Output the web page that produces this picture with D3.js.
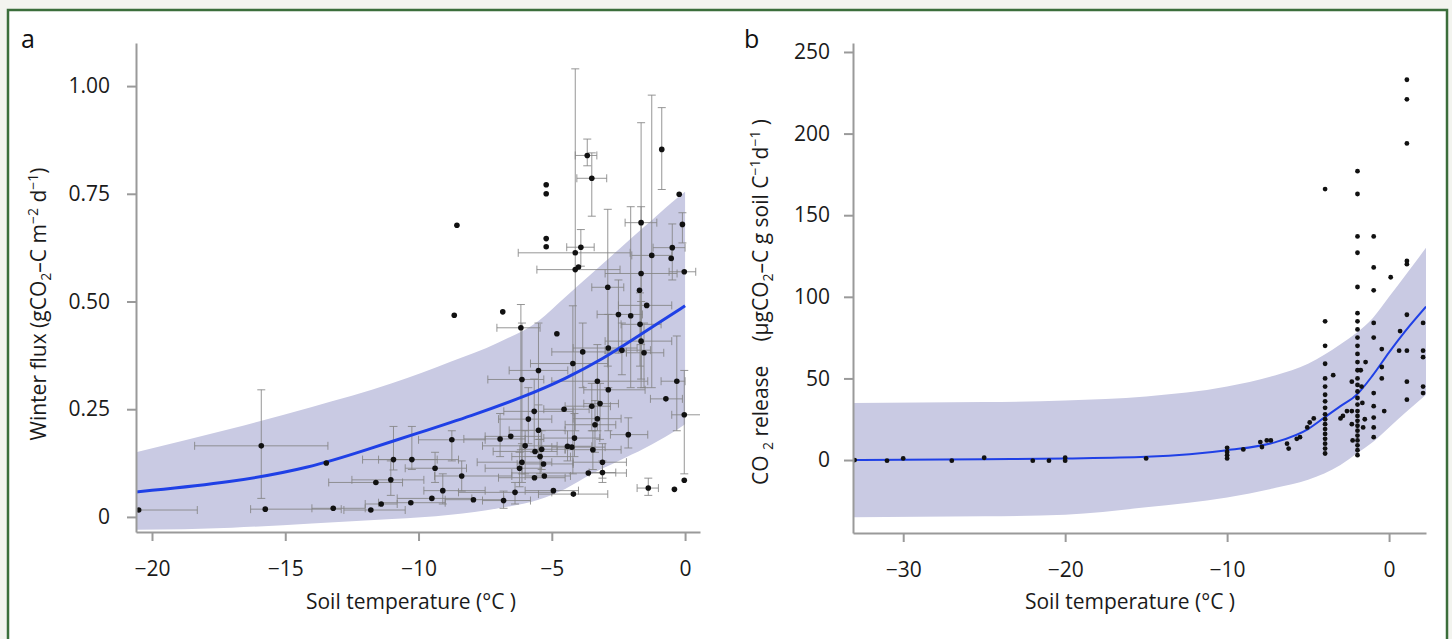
<!DOCTYPE html>
<html>
<head>
<meta charset="utf-8">
<script src="https://cdn.jsdelivr.net/npm/d3@7"></script>
<style>
body { margin: 0; background: #f3f4ef; }
svg { display: block; font-family: "Open Sans", sans-serif; }
</style>
</head>
<body>
<svg id="chart" width="1452" height="639"></svg>
<script>
// ---- panel a: winter flux vs soil temperature ----
var aBandT  = [-20.6, -17, -14, -11, -8.8, -7, -5.5, -4.5, -3.5, -2.5, -1.5, -0.5, 0];
var aBandLo = [-0.03, -0.025, -0.015, -0.005, 0.005, 0.02, 0.04, 0.065, 0.1, 0.13, 0.16, 0.195, 0.215];
var aBandHi = [0.15, 0.205, 0.255, 0.31, 0.36, 0.405, 0.455, 0.51, 0.565, 0.62, 0.675, 0.73, 0.755];
var aLineT  = [-20.6, -17, -14, -12, -10, -8, -6, -4.5, -3, -2, -1, 0];
var aLineV  = [0.058, 0.08, 0.115, 0.155, 0.195, 0.235, 0.28, 0.32, 0.37, 0.41, 0.45, 0.49];
// [temp, flux, tempLo, tempHi, fluxLo, fluxHi]
var aPoints = [
  [-20.5,0.016,-21.5,-18.3,null,null],
  [-15.9,0.165,-18.4,-13.4,0.043,0.295],
  [-15.75,0.018,-16.3,-12.9,null,null],
  [-13.46,0.125,null,null,null,null],
  [-13.2,0.02,-14.0,-12.0,null,null],
  [-11.79,0.016,-12.8,-10.5,null,null],
  [-11.4,0.03,-12.0,-10.8,null,null],
  [-11.6,0.08,-13.37,-10.6,null,null],
  [-11.04,0.086,-12.5,-9.8,0.05,0.13],
  [-10.94,0.133,-12.1,-8.5,0.109,0.21],
  [-10.25,0.133,-11.5,-9.3,0.11,0.21],
  [-10.29,0.033,-11.5,-9.0,null,null],
  [-9.38,0.113,-10.5,-8.2,0.08,0.15],
  [-9.5,0.043,-10.8,-8.0,null,null],
  [-9.09,0.061,-9.8,-7.5,0.03,0.1],
  [-8.75,0.179,-10.0,-7.5,0.13,0.2],
  [-8.38,0.095,-9.4,-6.5,0.06,0.13],
  [-7.94,0.04,-9.0,-6.8,null,null],
  [-6.81,0.038,-7.6,-5.8,0.02,0.06],
  [-8.56,0.677,null,null,null,null],
  [-8.66,0.468,null,null,null,null],
  [-6.84,0.476,null,null,null,null],
  [-6.16,0.439,-7.06,-5.44,0.156,0.493],
  [-4.81,0.425,null,null,null,null],
  [-5.21,0.771,null,null,null,null],
  [-5.21,0.75,null,null,null,null],
  [-5.21,0.646,null,null,null,null],
  [-5.21,0.627,null,null,null,null],
  [-3.67,0.839,-4.12,-3.31,0.815,0.877],
  [-3.5,0.786,-4.06,-2.94,0.698,0.845],
  [-4.12,0.613,-6.26,-2.06,0.2,1.04],
  [-3.91,0.626,-4.44,-3.41,0.582,0.667],
  [-4.12,0.574,-5.56,-2.44,null,null],
  [-4.0,0.58,null,null,null,null],
  [-0.875,0.853,null,null,0.76,0.95],
  [-1.25,0.607,-2.0,-0.5,0.3,0.979],
  [-1.65,0.683,-2.25,-1.06,0.3,0.915],
  [-0.22,0.749,null,null,null,null],
  [-0.1,0.679,null,null,0.636,0.706],
  [-0.48,0.625,-1.2,0.0,0.55,0.68],
  [-0.52,0.6,null,null,null,null],
  [-0.03,0.569,-0.6,0.4,null,null],
  [-1.65,0.565,-3.0,-0.3,0.4,0.72],
  [-2.9,0.533,-3.5,-2.3,0.35,0.714],
  [-1.71,0.526,null,null,null,null],
  [-1.44,0.491,-2.5,-0.5,null,null],
  [-2.5,0.47,-3.3,-1.6,0.38,0.55],
  [-2.04,0.467,null,null,0.3,0.72],
  [-1.69,0.447,-2.4,-0.9,0.35,0.52],
  [-1.65,0.408,-3.0,-0.5,0.32,0.5],
  [-1.54,0.381,-2.2,-0.8,0.3,0.45],
  [-2.88,0.392,-4.2,-1.8,0.3,0.47],
  [-2.37,0.387,-3.0,-1.3,0.33,0.45],
  [-3.84,0.383,-5.0,-2.2,0.3,0.45],
  [-4.21,0.356,-5.8,-2.9,0.1,0.49],
  [-5.5,0.34,-6.6,-4.4,0.18,0.45],
  [-6.12,0.319,-7.4,-5.3,0.1,0.45],
  [-3.29,0.315,-5.0,-1.4,0.2,0.4],
  [-2.88,0.295,-3.8,-1.5,0.2,0.38],
  [-0.31,0.315,-0.9,0.0,0.2,0.42],
  [-0.72,0.274,-1.3,-0.1,null,null],
  [-0.03,0.237,-0.5,0.6,0.1,0.34],
  [-5.66,0.245,-6.8,-4.2,0.15,0.32],
  [-4.54,0.25,-5.3,-3.6,null,null],
  [-3.5,0.257,-4.5,-2.8,0.2,0.31],
  [-3.19,0.263,-3.8,-2.5,0.18,0.31],
  [-5.88,0.227,-7.0,-5.0,0.17,0.3],
  [-3.29,0.228,-4.2,-2.4,null,null],
  [-3.38,0.214,-4.5,-2.6,0.15,0.27],
  [-2.13,0.191,-2.8,-1.4,0.16,0.23],
  [-6.94,0.181,-8.3,-6.0,0.14,0.24],
  [-6.54,0.187,-7.5,-5.4,null,null],
  [-5.5,0.201,-6.6,-4.5,0.14,0.26],
  [-4.15,0.183,-5.3,-3.2,0.14,0.24],
  [-6.0,0.165,-7.6,-4.8,0.1,0.2],
  [-5.38,0.157,-6.2,-4.5,0.11,0.2],
  [-5.63,0.152,-7.2,-4.8,null,null],
  [-4.41,0.164,-5.5,-3.5,0.13,0.2],
  [-4.25,0.162,-5.0,-3.0,null,null],
  [-3.46,0.156,-4.5,-2.4,0.11,0.2],
  [-5.44,0.14,-6.5,-4.3,0.1,0.18],
  [-6.12,0.127,-7.8,-5.0,0.08,0.17],
  [-5.31,0.123,-6.3,-4.2,null,null],
  [-6.21,0.113,-7.5,-5.4,0.07,0.15],
  [-3.1,0.127,-4.2,-2.2,0.09,0.17],
  [-3.1,0.103,-3.6,-2.6,0.08,0.13],
  [-3.63,0.102,-6.5,-2.2,null,null],
  [-5.65,0.091,-7.0,-4.5,null,null],
  [-5.28,0.095,-6.0,-4.3,null,null],
  [-6.38,0.057,-8.5,-5.0,0.03,0.08],
  [-4.94,0.061,-6.0,-4.0,null,null],
  [-4.19,0.053,-5.5,-2.9,null,null],
  [-1.38,0.067,-1.8,-1.0,0.05,0.09],
  [-0.4,0.064,null,null,null,null],
  [-0.03,0.085,null,null,null,null]
];
var aXTicks = [-20, -15, -10, -5, 0];
var aYTicks = [0, 0.25, 0.5, 0.75, 1];
var aYTickLabels = ["0", "0.25", "0.50", "0.75", "1.00"];

// ---- panel b: CO2 release vs soil temperature ----
var bBandT  = [-33.1, -25, -20, -15, -10, -7, -5, -3, -2, -1, 0, 1, 2.28];
var bBandLo = [-35, -34.5, -33.5, -29, -23, -17, -12, -3, 4, 11, 20, 29, 40];
var bBandHi = [35, 35.5, 36.5, 39, 45, 52, 59, 71, 78, 87, 100, 113, 130];
var bLineT  = [-33.1, -25, -20, -15, -10, -7, -5, -4, -3, -2, -1, 0, 1, 2.28];
var bLineV  = [0, 0.5, 1, 2, 6, 11, 19, 26, 33, 40, 52, 66, 79, 94];
var bPoints = [
  [-33,0],[-31,-0.4],[-30,1],[-27,-0.4],[-25,1.4],[-22,-0.4],[-21,-0.4],[-20,1.4],[-20,-0.4],[-15,1],
  [-10,1],[-10,3],[-10,5],[-10,7.5],[-9,6.5],[-7.95,11],[-7.85,8],[-7.55,12],[-7.3,12],[-6.3,10],
  [-6.2,7],[-5.7,13],[-5.5,14],[-5.05,20],[-4.9,23],[-4.65,25.5],
  [-3.95,166],[-3.95,85],[-3.95,70],[-3.95,59],[-3.95,50],[-3.95,45],[-3.95,40],[-3.95,36],[-3.95,32],
  [-3.95,28],[-3.95,25],[-3.95,22],[-3.95,19],[-3.95,16],[-3.95,13],[-3.95,10],[-3.95,7],[-3.95,4],
  [-3.45,52],[-3.0,25.5],[-2.85,27],[-2.6,30],
  [-1.95,177],[-1.95,163],[-1.95,137],[-1.95,127],[-1.95,106],[-1.95,90],[-1.95,85],[-1.95,80],
  [-1.95,75],[-1.95,70],[-1.95,65],[-1.95,60],[-1.95,55],[-1.95,50],[-1.95,46],[-1.95,42],[-1.95,38],
  [-1.95,34],[-1.95,30],[-1.95,27],[-1.95,24],[-1.95,21],[-1.95,18],[-1.95,15],[-1.95,12],[-1.95,9],
  [-1.95,6],[-1.95,3],
  [-2.3,48],[-2.3,30],[-2.3,22],[-2.25,12],[-1.75,55],[-1.7,45],[-1.65,35],[-1.6,20],[-1.5,25],[-1.45,60],
  [-0.95,137],[-0.95,118],[-0.95,104],[-0.95,84],[-0.95,75],[-0.95,41],[-0.95,33],[-0.95,26],
  [-0.95,20],[-0.95,14],
  [-0.45,68],[-0.45,57],[-0.45,50],[-0.3,30],
  [0.1,112],[0.68,79],[0.62,67],
  [1.1,233],[1.1,221],[1.1,194],[1.1,122],[1.1,120],[1.1,89],[1.1,67],[1.1,48],[1.1,37],
  [2.1,84],[2.1,67],[2.1,63],[2.1,45],[2.1,41]
];
var bXTicks = [-30, -20, -10, 0];
var bYTicks = [0, 50, 100, 150, 200, 250];

var bandColor = "#c9cae3",
    lineColor = "#1f40e6",
    axisColor = "#9a9a9a",
    barColor = "#858585";

var svg = d3.select("#chart");

// green frame
svg.append("rect")
    .attr("x", 8).attr("y", 10)
    .attr("width", 1439).attr("height", 640)
    .attr("fill", "#fff")
    .attr("stroke", "#3b6e3b")
    .attr("stroke-width", 2.5);

function styleAxis(g) {
  g.select(".domain").attr("stroke", axisColor).attr("stroke-width", 2);
  g.selectAll(".tick line").attr("stroke", axisColor).attr("stroke-width", 2);
  g.selectAll(".tick text").attr("fill", "#1a1a1a").style("font-size", "21px")
      .style("font-family", "'Open Sans', sans-serif");
}

/* Panel a */

var xa = d3.scaleLinear().domain([-20.6, 0.56]).range([136, 700]);
var ya = d3.scaleLinear().domain([-0.035, 1.10]).range([532, 43]);

svg.append("clipPath").attr("id", "clipA")
  .append("rect").attr("x", 136).attr("y", 43).attr("width", 564).attr("height", 489);

var ga = svg.append("g").attr("clip-path", "url(#clipA)");

var aBand = aBandT.map(function(t, i) { return {t: t, lo: aBandLo[i], hi: aBandHi[i]}; });
ga.append("path")
    .datum(aBand)
    .attr("fill", bandColor)
    .attr("d", d3.area()
        .x(function(d) { return xa(d.t); })
        .y0(function(d) { return ya(d.lo); })
        .y1(function(d) { return ya(d.hi); })
        .curve(d3.curveMonotoneX));

// error bars
var cap = 4;
aPoints.forEach(function(p) {
  if (p[2] != null) {
    ga.append("line").attr("x1", xa(p[2])).attr("x2", xa(p[3]))
        .attr("y1", ya(p[1])).attr("y2", ya(p[1]))
        .attr("stroke", barColor).attr("stroke-width", 1).attr("opacity", 0.85);
    [p[2], p[3]].forEach(function(v) {
      ga.append("line").attr("x1", xa(v)).attr("x2", xa(v))
          .attr("y1", ya(p[1]) - cap).attr("y2", ya(p[1]) + cap)
          .attr("stroke", barColor).attr("stroke-width", 1).attr("opacity", 0.85);
    });
  }
  if (p[4] != null) {
    ga.append("line").attr("x1", xa(p[0])).attr("x2", xa(p[0]))
        .attr("y1", ya(p[4])).attr("y2", ya(p[5]))
        .attr("stroke", barColor).attr("stroke-width", 1).attr("opacity", 0.85);
    [p[4], p[5]].forEach(function(v) {
      ga.append("line").attr("x1", xa(p[0]) - cap).attr("x2", xa(p[0]) + cap)
          .attr("y1", ya(v)).attr("y2", ya(v))
          .attr("stroke", barColor).attr("stroke-width", 1).attr("opacity", 0.85);
    });
  }
});

var aLine = aLineT.map(function(t, i) { return {t: t, v: aLineV[i]}; });
ga.append("path")
    .datum(aLine)
    .attr("fill", "none")
    .attr("stroke", lineColor)
    .attr("stroke-width", 3)
    .attr("d", d3.line()
        .x(function(d) { return xa(d.t); })
        .y(function(d) { return ya(d.v); })
        .curve(d3.curveBasis));

ga.selectAll("circle.pa")
    .data(aPoints)
  .enter().append("circle")
    .attr("class", "pa")
    .attr("cx", function(d) { return xa(d[0]); })
    .attr("cy", function(d) { return ya(d[1]); })
    .attr("r", 2.8)
    .attr("fill", "#111");

svg.append("g")
    .attr("transform", "translate(0,532)")
    .call(d3.axisBottom(xa).tickValues(aXTicks).tickSize(9).tickSizeOuter(0).tickPadding(20))
    .call(styleAxis);

svg.append("g")
    .attr("transform", "translate(136,0)")
    .call(d3.axisLeft(ya).tickValues(aYTicks).tickSize(9).tickSizeOuter(0).tickPadding(17)
        .tickFormat(function(d, i) { return aYTickLabels[i]; }))
    .call(styleAxis);

svg.append("text")
    .attr("x", 21).attr("y", 48)
    .style("font-size", "25px").attr("fill", "#111")
    .text("a");

svg.append("text")
    .attr("x", 411).attr("y", 609)
    .attr("text-anchor", "middle")
    .style("font-size", "21px").attr("fill", "#1a1a1a")
    .text("Soil temperature (°C )");

// y title a
var ta = svg.append("text")
    .attr("transform", "translate(46,304) rotate(-90)")
    .attr("text-anchor", "middle")
    .style("font-size", "21px").attr("fill", "#1a1a1a");
ta.append("tspan").text("Winter flux (gCO");
ta.append("tspan").attr("dy", 5).style("font-size", "14px").text("2");
ta.append("tspan").attr("dy", -5).text("–C m");
ta.append("tspan").attr("dy", -8).style("font-size", "14px").text("−2");
ta.append("tspan").attr("dy", 8).text(" d");
ta.append("tspan").attr("dy", -8).style("font-size", "14px").text("−1");
ta.append("tspan").attr("dy", 8).text(")");

/* Panel b */

var xb = d3.scaleLinear().domain([-33.1, 2.28]).range([853, 1426]);
var yb = d3.scaleLinear().domain([-44.7, 255.5]).range([533, 43]);

svg.append("clipPath").attr("id", "clipB")
  .append("rect").attr("x", 853).attr("y", 43).attr("width", 573).attr("height", 490);

var gb = svg.append("g").attr("clip-path", "url(#clipB)");

var bBand = bBandT.map(function(t, i) { return {t: t, lo: bBandLo[i], hi: bBandHi[i]}; });
gb.append("path")
    .datum(bBand)
    .attr("fill", bandColor)
    .attr("d", d3.area()
        .x(function(d) { return xb(d.t); })
        .y0(function(d) { return yb(d.lo); })
        .y1(function(d) { return yb(d.hi); })
        .curve(d3.curveMonotoneX));

var bLine = bLineT.map(function(t, i) { return {t: t, v: bLineV[i]}; });
gb.append("path")
    .datum(bLine)
    .attr("fill", "none")
    .attr("stroke", lineColor)
    .attr("stroke-width", 2)
    .attr("d", d3.line()
        .x(function(d) { return xb(d.t); })
        .y(function(d) { return yb(d.v); })
        .curve(d3.curveMonotoneX));

gb.selectAll("circle.pb")
    .data(bPoints)
  .enter().append("circle")
    .attr("class", "pb")
    .attr("cx", function(d) { return xb(d[0]); })
    .attr("cy", function(d) { return yb(d[1]); })
    .attr("r", 2.4)
    .attr("fill", "#111");

svg.append("g")
    .attr("transform", "translate(0,533)")
    .call(d3.axisBottom(xb).tickValues(bXTicks).tickSize(9).tickSizeOuter(0).tickPadding(20))
    .call(styleAxis);

svg.append("g")
    .attr("transform", "translate(853,0)")
    .call(d3.axisLeft(yb).tickValues(bYTicks).tickSize(9).tickSizeOuter(0).tickPadding(14))
    .call(styleAxis);

svg.append("text")
    .attr("x", 744).attr("y", 48)
    .style("font-size", "25px").attr("fill", "#111")
    .text("b");

svg.append("text")
    .attr("x", 1130).attr("y", 609)
    .attr("text-anchor", "middle")
    .style("font-size", "21px").attr("fill", "#1a1a1a")
    .text("Soil temperature (°C )");

// y title b
var tb = svg.append("text")
    .attr("transform", "translate(768,302) rotate(-90)")
    .attr("text-anchor", "middle")
    .style("font-size", "21px").attr("fill", "#1a1a1a");
tb.append("tspan").text("CO ");
tb.append("tspan").attr("dy", 5).style("font-size", "14px").text("2");
tb.append("tspan").attr("dy", -5).text(" release");
tb.append("tspan").attr("dx", 24).text("(µgCO");
tb.append("tspan").attr("dy", 5).style("font-size", "14px").text("2");
tb.append("tspan").attr("dy", -5).text("–C g soil C");
tb.append("tspan").attr("dy", -8).style("font-size", "14px").text("−1");
tb.append("tspan").attr("dy", 8).text("d");
tb.append("tspan").attr("dy", -8).style("font-size", "14px").text("−1");
tb.append("tspan").attr("dy", 8).text(" )");
</script>
</body>
</html>
